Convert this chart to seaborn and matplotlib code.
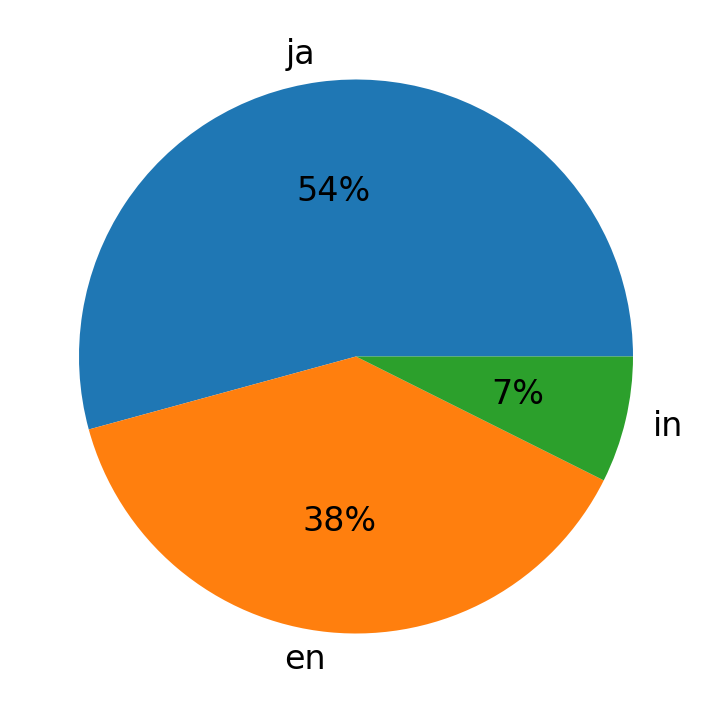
import matplotlib
matplotlib.use("Agg")
import matplotlib.pyplot as plt
import seaborn as sns

languages = ["ja", "en", "in"]
counts = [147, 104, 20]


def draw_pie():
    sns.set_theme(style="white")
    colors = sns.color_palette("tab10")[:len(languages)]

    fig = plt.figure(figsize=(7.12, 7.13), dpi=100)
    ax = fig.add_axes([0, 0, 1, 1])
    ax.pie(counts, labels=languages, colors=colors, autopct="%1.0f%%",
           wedgeprops={"linewidth": 0, "edgecolor": "none"},
           textprops={"fontsize": 24, "color": "black"})
    ax.set_xlim(-1.285, 1.285)
    ax.set_ylim(-1.287, 1.287)
    ax.set_aspect("equal")
    fig.savefig("out.png", dpi=100, facecolor="white")


if __name__ == "__main__":
    draw_pie()
